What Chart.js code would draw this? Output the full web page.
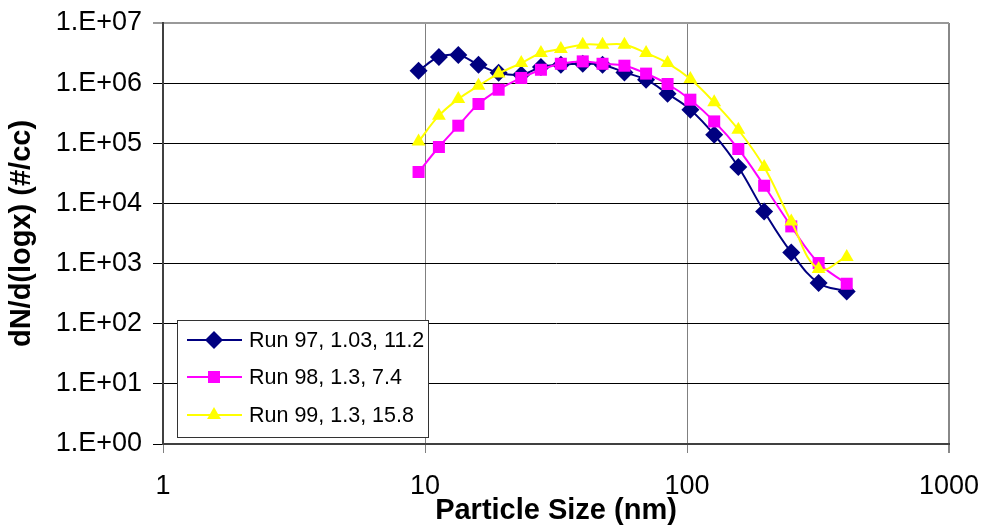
<!DOCTYPE html>
<html>
<head>
<meta charset="utf-8">
<script src="https://cdn.jsdelivr.net/npm/chart.js@4"></script>
<style>
  html, body { margin: 0; padding: 0; background: #fff; }
  #wrap { width: 986px; height: 529px; }
</style>
</head>
<body>
<div id="wrap"><canvas id="chart" width="986" height="529"></canvas></div>
<script>
// particle size (nm)
const sizes = [9.45, 11.3, 13.4, 16.0, 19.1, 23.3, 27.7, 33.0, 40.0, 47.6,
               57.7, 69.8, 84.3, 103, 127, 157, 197, 250, 318, 407];

const run97 = [1.61e6, 2.72e6, 2.94e6, 2.03e6, 1.49e6, 1.38e6, 1.85e6, 2.03e6, 2.10e6, 2.03e6,
               1.51e6, 1.14e6, 6.67e5, 3.62e5, 1.39e5, 4.03e4, 7.37e3, 1.53e3, 475, 344];
const run98 = [3.33e4, 8.67e4, 1.96e5, 4.50e5, 7.78e5, 1.22e6, 1.67e6, 2.10e6, 2.30e6, 2.10e6,
               1.95e6, 1.44e6, 9.68e5, 5.31e5, 2.31e5, 8.04e4, 1.97e4, 4.15e3, 1020, 462];
const run99 = [1.07e5, 2.88e5, 5.45e5, 9.06e5, 1.44e6, 2.16e6, 3.17e6, 3.70e6, 4.36e6, 4.36e6,
               4.36e6, 3.17e6, 2.16e6, 1.17e6, 4.79e5, 1.68e5, 4.03e4, 5.02e3, 813, 1290];

const seriesNames = ['Run 97, 1.03, 11.2', 'Run 98, 1.3, 7.4', 'Run 99, 1.3, 15.8'];
const xTicks = [1, 10, 100, 1000];
const yTicks = [1e0, 1e1, 1e2, 1e3, 1e4, 1e5, 1e6, 1e7];
const yTickLabels = ['1.E+00', '1.E+01', '1.E+02', '1.E+03', '1.E+04', '1.E+05', '1.E+06', '1.E+07'];

const FONT = "'Liberation Sans', Arial, sans-serif";

function points(vals) {
  return sizes.map((x, i) => ({x: x, y: vals[i]}));
}

function makeSet(label, vals, color, style, radius, order) {
  return {
    label: label,
    data: points(vals),
    borderColor: color,
    backgroundColor: color,
    borderWidth: 2,
    pointStyle: style,
    pointRadius: radius,
    pointHoverRadius: radius,
    pointBorderWidth: 0,
    tension: 0.4,
    order: order
  };
}

// legend drawn like the spreadsheet one: box with line + marker samples
const boxLegend = {
  id: 'boxLegend',
  afterDraw(chart) {
    const ctx = chart.ctx;
    const x0 = 177, y0 = 320, w = 251, h = 117;
    ctx.save();
    ctx.fillStyle = '#fff';
    ctx.fillRect(x0, y0, w, h);
    ctx.strokeStyle = '#333';
    ctx.lineWidth = 1;
    ctx.strokeRect(x0 + 0.5, y0 + 0.5, w, h);
    const rowsY = [340, 377, 415];
    chart.data.datasets.forEach((ds, i) => {
      const y = rowsY[i];
      ctx.strokeStyle = ds.borderColor;
      ctx.lineWidth = 2;
      ctx.beginPath();
      ctx.moveTo(187, y);
      ctx.lineTo(242, y);
      ctx.stroke();
      ctx.fillStyle = ds.backgroundColor;
      Chart.helpers.drawPoint(ctx, {pointStyle: ds.pointStyle, radius: ds.pointRadius, borderWidth: 0}, 214, y);
      ctx.fillStyle = '#000';
      ctx.font = '21.5px ' + FONT;
      ctx.textBaseline = 'middle';
      ctx.textAlign = 'left';
      ctx.fillText(ds.label, 249, y + 1);
    });
    ctx.restore();
  }
};

new Chart(document.getElementById('chart'), {
  type: 'line',
  data: {
    datasets: [
      makeSet(seriesNames[0], run97, '#000080', 'rectRot', 9, 3),
      makeSet(seriesNames[1], run98, '#FF00FF', 'rect', 8.5, 2),
      makeSet(seriesNames[2], run99, '#FFFF00', 'triangle', 8, 1)
    ]
  },
  options: {
    responsive: false,
    animation: false,
    layout: { padding: { top: 23, right: 37, left: 0, bottom: 0 } },
    plugins: { legend: { display: false }, tooltip: { enabled: false } },
    scales: {
      x: {
        type: 'logarithmic',
        min: 1,
        max: 1000,
        afterBuildTicks: s => { s.ticks = xTicks.map(v => ({value: v})); },
        afterFit: s => { s.height = 85; s.paddingLeft = 0; s.paddingRight = 0; },
        ticks: {
          color: '#000',
          font: { family: FONT, size: 27 },
          padding: 17,
          maxRotation: 0,
          callback: v => String(v)
        },
        grid: {
          color: c => (c.tick && c.tick.value === 1000) ? '#888' : '#808080',
          lineWidth: c => (c.tick && c.tick.value === 1000) ? 2 : 1,
          tickLength: 9
        },
        border: { display: true, color: '#404040', width: 2 },
        title: {
          display: true,
          text: 'Particle Size (nm)',
          color: '#000',
          font: { family: FONT, size: 29, weight: 'bold' },
          padding: { top: 0, bottom: 1 }
        }
      },
      y: {
        type: 'logarithmic',
        min: 1,
        max: 1e7,
        afterBuildTicks: s => { s.ticks = yTicks.map(v => ({value: v})); },
        afterFit: s => { s.width = 163; s.paddingTop = 0; s.paddingBottom = 0; },
        ticks: {
          color: '#000',
          font: { family: FONT, size: 27 },
          padding: 11,
          callback: (v) => yTickLabels[yTicks.indexOf(v)]
        },
        grid: {
          color: c => (c.tick && c.tick.value === 1e7) ? '#999' : '#000',
          lineWidth: c => (c.tick && c.tick.value === 1e7) ? 2 : 1,
          tickLength: 10
        },
        border: { display: true, color: '#404040', width: 2 },
        title: {
          display: true,
          text: 'dN/d(logx) (#/cc)',
          color: '#000',
          font: { family: FONT, size: 29, weight: 'bold' },
          padding: { top: 5, bottom: 0 }
        }
      }
    }
  },
  plugins: [boxLegend]
});
</script>
</body>
</html>
